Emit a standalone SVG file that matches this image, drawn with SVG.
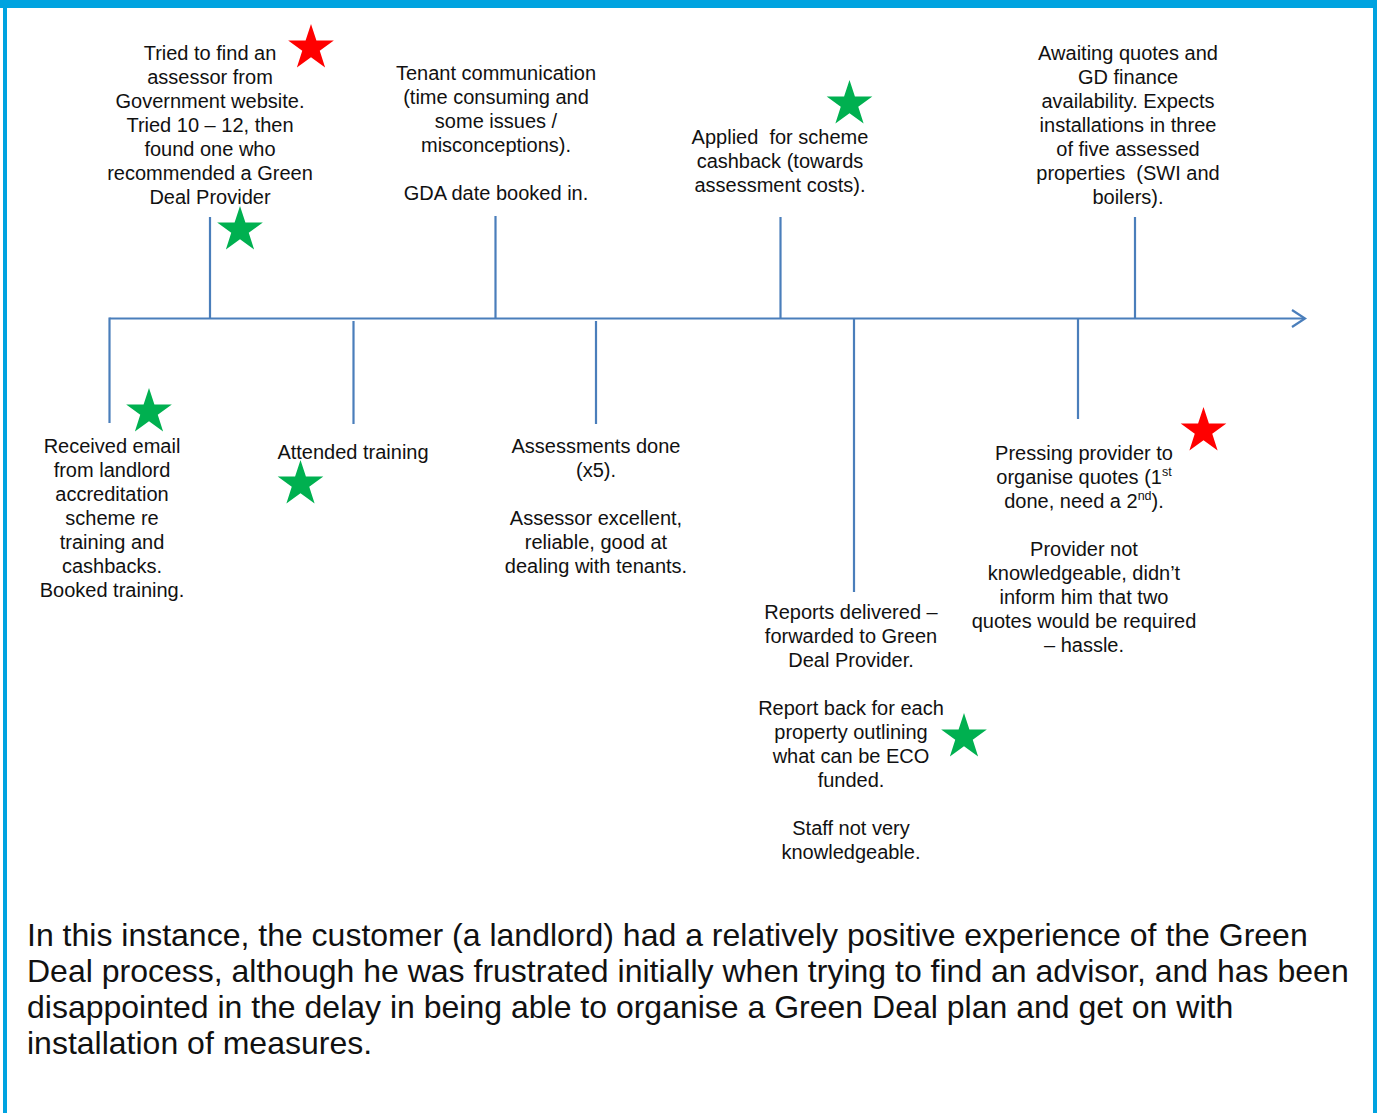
<svg xmlns="http://www.w3.org/2000/svg" width="1377" height="1113" viewBox="0 0 1377 1113">
<style>
  .lbl { font-family: "Liberation Sans", Arial, sans-serif; font-size: 20px; fill: #111; text-anchor: middle; }
  .sup { font-size: 12.5px; }
  .para { font-family: "Liberation Sans", Arial, sans-serif; font-size: 32px; fill: #111; }
  .ln { stroke: #4a7ebb; stroke-width: 2.2; fill: none; }
  .red { fill: #ff0000; }
  .grn { fill: #00b050; }
</style>
<defs>
  <path id="star" d="M0,-24 L5.41,-7.44 L22.83,-7.42 L8.75,2.84 L14.11,19.42 L0,9.2 L-14.11,19.42 L-8.75,2.84 L-22.83,-7.42 L-5.41,-7.44 Z"/>
</defs>
<rect x="0" y="0" width="1377" height="1113" fill="#ffffff"/>
<g id="frame" fill="#00a3e0">
  <rect x="0" y="0" width="1377" height="8"/>
  <rect x="3" y="0" width="4" height="1113"/>
  <rect x="1373" y="0" width="4" height="1113"/>
</g>
<g id="connectors" class="ln">
  <line x1="109.5" y1="318.5" x2="1304" y2="318.5"/>
  <polyline points="1292,310 1305,318.5 1292,327"/>
  <line x1="109.5" y1="317.5" x2="109.5" y2="423"/>
  <line x1="210" y1="217" x2="210" y2="318.5"/>
  <line x1="353.5" y1="321" x2="353.5" y2="424"/>
  <line x1="495.5" y1="216" x2="495.5" y2="318.5"/>
  <line x1="596" y1="321" x2="596" y2="424"/>
  <line x1="780.5" y1="217" x2="780.5" y2="318.5"/>
  <line x1="854" y1="318.5" x2="854" y2="592"/>
  <line x1="1078" y1="318.5" x2="1078" y2="419"/>
  <line x1="1135" y1="217" x2="1135" y2="318.5"/>
</g>
<g id="ev-assessor">
  <text class="lbl"><tspan x="210" y="60">Tried to find an</tspan><tspan x="210" y="84">assessor from</tspan><tspan x="210" y="108">Government website.</tspan><tspan x="210" y="132">Tried 10 – 12, then</tspan><tspan x="210" y="156">found one who</tspan><tspan x="210" y="180">recommended a Green</tspan><tspan x="210" y="204">Deal Provider</tspan></text>
  <use href="#star" class="red" x="311" y="48"/>
  <use href="#star" class="grn" x="240" y="230"/>
</g>
<g id="ev-tenant">
  <text class="lbl"><tspan x="496" y="80">Tenant communication</tspan><tspan x="496" y="104">(time consuming and</tspan><tspan x="496" y="128">some issues /</tspan><tspan x="496" y="152">misconceptions).</tspan><tspan x="496" y="200">GDA date booked in.</tspan></text>
</g>
<g id="ev-cashback">
  <text class="lbl"><tspan x="780" y="144">Applied&#160; for scheme</tspan><tspan x="780" y="168">cashback (towards</tspan><tspan x="780" y="192">assessment costs).</tspan></text>
  <use href="#star" class="grn" x="849.5" y="104"/>
</g>
<g id="ev-awaiting">
  <text class="lbl"><tspan x="1128" y="60">Awaiting quotes and</tspan><tspan x="1128" y="84">GD finance</tspan><tspan x="1128" y="108">availability. Expects</tspan><tspan x="1128" y="132">installations in three</tspan><tspan x="1128" y="156">of five assessed</tspan><tspan x="1128" y="180">properties&#160; (SWI and</tspan><tspan x="1128" y="204">boilers).</tspan></text>
</g>
<g id="ev-email">
  <text class="lbl"><tspan x="112" y="453">Received email</tspan><tspan x="112" y="477">from landlord</tspan><tspan x="112" y="501">accreditation</tspan><tspan x="112" y="525">scheme re</tspan><tspan x="112" y="549">training and</tspan><tspan x="112" y="573">cashbacks.</tspan><tspan x="112" y="597">Booked training.</tspan></text>
  <use href="#star" class="grn" x="149" y="412"/>
</g>
<g id="ev-training">
  <text class="lbl"><tspan x="353" y="459">Attended training</tspan></text>
  <use href="#star" class="grn" x="300.5" y="484"/>
</g>
<g id="ev-assessments">
  <text class="lbl"><tspan x="596" y="453">Assessments done</tspan><tspan x="596" y="477">(x5).</tspan><tspan x="596" y="525">Assessor excellent,</tspan><tspan x="596" y="549">reliable, good at</tspan><tspan x="596" y="573">dealing with tenants.</tspan></text>
</g>
<g id="ev-reports">
  <text class="lbl"><tspan x="851" y="619">Reports delivered –</tspan><tspan x="851" y="643">forwarded to Green</tspan><tspan x="851" y="667">Deal Provider.</tspan><tspan x="851" y="715">Report back for each</tspan><tspan x="851" y="739">property outlining</tspan><tspan x="851" y="763">what can be ECO</tspan><tspan x="851" y="787">funded.</tspan><tspan x="851" y="835">Staff not very</tspan><tspan x="851" y="859">knowledgeable.</tspan></text>
  <use href="#star" class="grn" x="964" y="737"/>
</g>
<g id="ev-quotes">
  <text class="lbl"><tspan x="1084" y="460">Pressing provider to</tspan><tspan x="1084" y="484">organise quotes (1<tspan class="sup" dy="-8">st</tspan></tspan><tspan x="1084" y="508">done, need a 2<tspan class="sup" dy="-8">nd</tspan><tspan dy="8">).</tspan></tspan><tspan x="1084" y="556">Provider not</tspan><tspan x="1084" y="580">knowledgeable, didn’t</tspan><tspan x="1084" y="604">inform him that two</tspan><tspan x="1084" y="628">quotes would be required</tspan><tspan x="1084" y="652">– hassle.</tspan></text>
  <use href="#star" class="red" x="1203.5" y="431"/>
</g>
<g id="summary">
  <text class="para"><tspan x="27" y="946">In this instance, the customer (a landlord) had a relatively positive experience of the Green</tspan><tspan x="27" y="982">Deal process, although he was frustrated initially when trying to find an advisor, and has been</tspan><tspan x="27" y="1018">disappointed in the delay in being able to organise a Green Deal plan and get on with</tspan><tspan x="27" y="1054">installation of measures.</tspan></text>
</g>
</svg>
